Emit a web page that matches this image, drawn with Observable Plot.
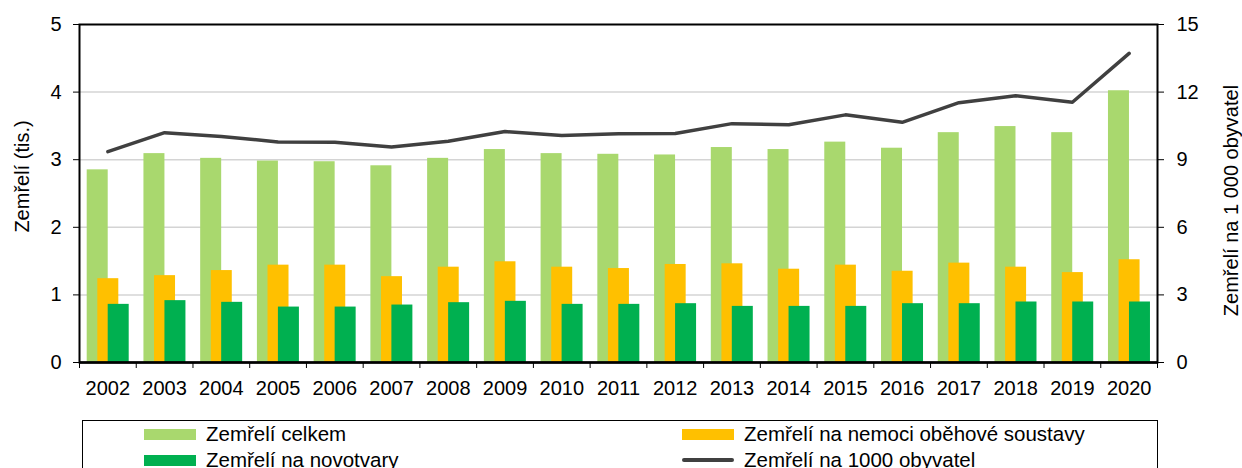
<!DOCTYPE html>
<html><head><meta charset="utf-8">
<script src="https://cdn.jsdelivr.net/npm/d3@7"></script>
<script src="https://cdn.jsdelivr.net/npm/@observablehq/plot@0.6"></script>
<style>
body{margin:0;background:#fff;font-family:Arial,"Liberation Sans",sans-serif;}
#chart{position:relative;width:1242px;height:468px;overflow:hidden;background:#fff;}
#legend{position:absolute;left:82px;top:420px;width:1076px;height:70px;border:1.5px solid #000;box-sizing:border-box;}
.sw{position:absolute;width:52px;height:11px;}
.ln{position:absolute;width:52px;height:4px;border-radius:2px;}
.lt{position:absolute;font-size:20.5px;color:#000;line-height:20px;white-space:nowrap;}
</style>
</head><body>
<div id="chart"></div>
<script>
const years = [2002,2003,2004,2005,2006,2007,2008,2009,2010,2011,2012,2013,2014,2015,2016,2017,2018,2019,2020];
// thousands
const celkem    = [2.85,3.09,3.02,2.98,2.97,2.91,3.02,3.15,3.09,3.08,3.07,3.18,3.15,3.26,3.17,3.40,3.49,3.40,4.02];
const obehove   = [1.24,1.285,1.36,1.44,1.44,1.27,1.41,1.49,1.41,1.39,1.45,1.46,1.38,1.44,1.35,1.47,1.41,1.33,1.52];
const novotvary = [0.86,0.915,0.89,0.82,0.82,0.85,0.885,0.905,0.86,0.86,0.87,0.83,0.83,0.83,0.87,0.87,0.895,0.895,0.895];
// per 1000 inhabitants (right axis)
const naTisic   = [9.36,10.2,10.03,9.79,9.77,9.56,9.82,10.25,10.07,10.15,10.16,10.6,10.55,10.99,10.66,11.53,11.84,11.55,13.72];
const leftTicks = [0,1,2,3,4,5];
const rightTicks = [0,3,6,9,12,15];
const seriesNames = ["Zemřelí celkem","Zemřelí na nemoci oběhové soustavy","Zemřelí na novotvary","Zemřelí na 1000 obyvatel"];
const leftTitle = "Zemřelí (tis.)";
const rightTitle = "Zemřelí na 1 000 obyvatel";

const ratio = 3; // right axis max 15 vs left max 5
const rows = years.map((y,i)=>({year:y, celkem:celkem[i], obehove:obehove[i], novotvary:novotvary[i], rate:naTisic[i]}));

const W = 1242, H = 410, mL = 79, mR = 85, mT = 24, mB = 48;
const bw = (W - mL - mR) / years.length;
const cLight = "#A9D86E", cYellow = "#FFC000", cGreen = "#00B050", cLine = "#404040";

const plot = Plot.plot({
  width: W, height: H,
  marginLeft: mL, marginRight: mR, marginTop: mT, marginBottom: mB,
  style: {fontFamily: 'Arial, "Liberation Sans", sans-serif', fontSize: "20px", color: "#000", background: "#fff", overflow: "visible"},
  x: {type: "band", domain: years, padding: 0, round: false},
  y: {domain: [0, 5]},
  marks: [
    Plot.gridY({ticks: [1,2,3,4], stroke: "#d4d4d4", strokeOpacity: 1, strokeWidth: 1.5}),
    Plot.barY(rows, {x: "year", y: "celkem", fill: cLight, insetLeft: 7.7, insetRight: bw - 28.7}),
    Plot.barY(rows, {x: "year", y: "obehove", fill: cYellow, insetLeft: 18.3, insetRight: bw - 39.3}),
    Plot.barY(rows, {x: "year", y: "novotvary", fill: cGreen, insetLeft: 28.7, insetRight: bw - 49.7}),
    Plot.line(rows, {x: "year", y: d => d.rate / ratio, stroke: cLine, strokeWidth: 3.5, strokeLinecap: "round", strokeLinejoin: "round"}),
    Plot.frame({stroke: "#000", strokeWidth: 2}),
    Plot.ruleY([0], {stroke: "#000", strokeWidth: 2.5}),
    Plot.axisY({ticks: leftTicks, tickSize: 6, tickPadding: 12, tickFormat: d => String(d), label: null}),
    Plot.axisY({anchor: "right", ticks: rightTicks.map(v => v / ratio), tickSize: 6, tickPadding: 13, tickFormat: d => String(Math.round(d * ratio)), label: null}),
    Plot.axisX({tickSize: 0, tickPadding: 18, tickFormat: d => String(d), label: null}),
    Plot.axisX({tickSize: 6, tickFormat: () => "", dx: -bw / 2, label: null}),
    Plot.axisX({ticks: [years[years.length - 1]], tickSize: 6, tickFormat: () => "", dx: bw / 2, label: null}),
    Plot.text([leftTitle], {frameAnchor: "left", textAnchor: "middle", rotate: -90, dx: -57, dy: -17, fontSize: 20, fill: "#000"}),
    Plot.text([rightTitle], {frameAnchor: "right", textAnchor: "middle", rotate: -90, dx: 74, dy: 7, fontSize: 20, fill: "#000"})
  ]
});
const chart = document.getElementById("chart");
chart.appendChild(plot);

const legend = document.createElement("div");
legend.id = "legend";
const items = [
  {name: seriesNames[0], color: cLight, x: 61, y: 13.5, kind: "sw"},
  {name: seriesNames[1], color: cYellow, x: 599, y: 13.5, kind: "sw"},
  {name: seriesNames[2], color: cGreen, x: 61, y: 39, kind: "sw"},
  {name: seriesNames[3], color: cLine, x: 599, y: 39, kind: "ln"}
];
for (const it of items) {
  const s = document.createElement("div");
  s.className = it.kind;
  s.style.background = it.color;
  s.style.left = it.x + "px";
  s.style.top = (it.y - (it.kind === "sw" ? 5.5 : 2)) + "px";
  legend.appendChild(s);
  const t = document.createElement("div");
  t.className = "lt";
  t.textContent = it.name;
  t.style.left = (it.x + 62) + "px";
  t.style.top = (it.y - 10.5) + "px";
  legend.appendChild(t);
}
chart.appendChild(legend);
</script>
</body></html>
